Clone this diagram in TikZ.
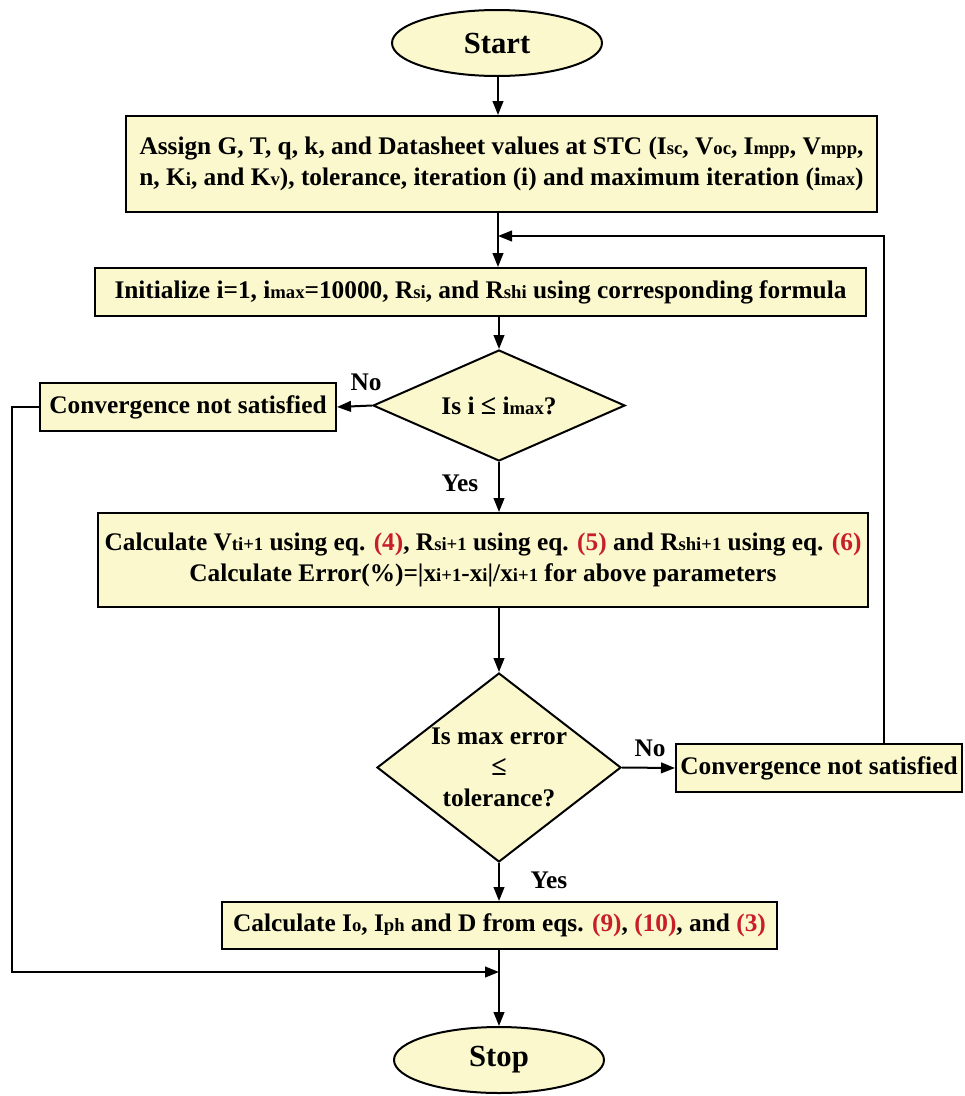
\documentclass[tikz,border=0pt]{standalone}
\usepackage{fontspec}
\setmainfont{Liberation Serif}
\usetikzlibrary{shapes.geometric,arrows.meta}
\definecolor{fillY}{RGB}{250,248,204}
\definecolor{eqred}{RGB}{200,30,40}
\newcommand{\sbs}[1]{{\fontsize{14}{14}\selectfont #1}}
\newcommand{\eqr}[1]{\textcolor{eqred}{#1}}
\newcommand{\leqs}{{\fontsize{21}{22}\selectfont ≤}}
\begin{document}
\begin{tikzpicture}[x=0.75pt,y=-0.75pt,
  line width=1.5pt,
  txt/.style={font=\bfseries\fontsize{19}{23}\selectfont},
  box/.style={txt,draw,fill=fillY,inner sep=0pt,align=center},
  term/.style={draw,fill=fillY,ellipse,inner sep=0pt,font=\bfseries\fontsize{23}{26}\selectfont,minimum width=157.5pt,minimum height=49.5pt},
  dec/.style={draw,fill=fillY,diamond,inner sep=0pt},
  dectxt/.style={txt,align=center,inner sep=0pt},
  arr/.style={-{Triangle[length=10.5pt,width=8pt]}},
  lbl/.style={txt,inner sep=0pt}]
\useasboundingbox (0,0) rectangle (964,1096);
\node[term] (start) at (497,43) {Start};
\node[box,minimum width=563.25pt,minimum height=72pt] (b1) at (501.5,164)
  {Assign G, T, q, k, and Datasheet values at STC (I\sbs{sc}, V\sbs{oc}, I\sbs{mpp}, V\sbs{mpp},\\ n, K\sbs{i}, and K\sbs{v}), tolerance, iteration (i) and maximum iteration (i\sbs{max})};
\node[box,minimum width=578.25pt,minimum height=36pt] (b2) at (480.5,292)
  {Initialize i=1, i\sbs{max}=10000, R\sbs{si}, and R\sbs{shi} using corresponding formula};
\node[dec,minimum width=189pt,minimum height=83.25pt] (d1) at (499,405.5) {};
\node[dectxt] (d1t) at (d1.center) {Is i \leqs{} i\sbs{max}?};
\node[box,minimum width=222pt,minimum height=36pt] (c1) at (188,407) {Convergence not satisfied};
\node[box,minimum width=577.5pt,minimum height=70.5pt] (b3) at (483,560)
  {Calculate V\sbs{ti+1} using eq. \eqr{(4)}, R\sbs{si+1} using eq. \eqr{(5)} and R\sbs{shi+1} using eq. \eqr{(6)}\\
   Calculate Error(\%)=|x\sbs{i+1}-x\sbs{i}|/x\sbs{i+1} for above parameters};
\node[dec,minimum width=183pt,minimum height=141.75pt] (d2) at (499,767.5) {};
\node[dectxt] (d2t) at (d2.center) {Is max error\\\leqs\\tolerance?};
\node[box,minimum width=214.5pt,minimum height=36pt] (c2) at (819,768) {Convergence not satisfied};
\node[box,minimum width=416.25pt,minimum height=35.25pt] (b4) at (499.5,925.5)
  {Calculate I\sbs{o}, I\sbs{ph} and D from eqs. \eqr{(9)}, \eqr{(10)}, and \eqr{(3)}};
\node[term] (stop) at (499,1060) {Stop};
\coordinate (fbtop) at (884,236);
\coordinate (fbin) at (498,236);
\coordinate (lbot) at (12,972);
\coordinate (mid) at (498,0);
\draw[arr] (start.south -| mid) -- (b1.north -| mid);
\draw[arr] (b1.south -| mid) -- (b2.north -| mid);
\draw[arr] (c2.north -| fbtop) -- (fbtop) -- (fbin);
\draw[arr] (b2.south -| d1.north) -- (d1.north);
\draw[arr] (d1.west) -- (c1.east);
\draw[arr] (d1.south) -- (d1.south |- b3.north);
\draw[arr] (b3.south -| d2.north) -- (d2.north);
\draw[arr] (d2.east) -- (c2.west);
\draw[arr] (d2.south) -- (d2.south |- b4.north);
\draw[arr] (b4.south -| stop.north) -- (stop.north);
\draw[arr] (c1.west) -- (c1.west -| lbot) -- (lbot) -- (lbot -| stop.north);
\node[lbl] (no1) at (366,382) {No};
\node[lbl] (yes1) at (460,483) {Yes};
\node[lbl] (no2) at (650,748) {No};
\node[lbl] (yes2) at (549,880) {Yes};
\end{tikzpicture}
\end{document}
